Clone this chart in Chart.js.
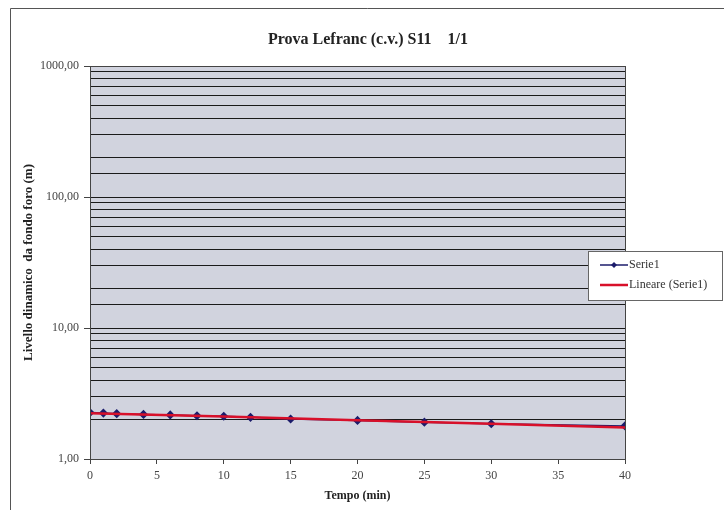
<!DOCTYPE html>
<html lang="it">
<head>
<meta charset="UTF-8" />
<title>Prova Lefranc (c.v.) S11 1/1</title>
<script src="https://cdn.jsdelivr.net/npm/chart.js"></script>
<style>
  html, body { margin: 0; padding: 0; background: #fff; }
  #wrap { width: 724px; height: 510px; position: relative; }
</style>
</head>
<body>
<div id="wrap"><canvas id="lefrancChart" width="724" height="510"></canvas></div>
<script>
// dati
const tempi = [0, 1, 2, 4, 6, 8, 10, 12, 15, 20, 25, 30, 40];
const livelli = [2.26, 2.24, 2.22, 2.19, 2.17, 2.14, 2.12, 2.08, 2.02, 1.97, 1.91, 1.86, 1.79];
const tempiTrend = [0, 10, 20, 30, 40];
const livelliTrend = [2.23, 2.11, 1.98, 1.86, 1.74];
const titolo = 'Prova Lefranc (c.v.) S11    1/1';
const serif = '"Liberation Serif", "Times New Roman", serif';

const isDecade = v => Math.abs(Math.log10(v) - Math.round(Math.log10(v))) < 1e-9;

// sfondo grigio area grafico, cornice e titolo
const sfondo = {
  id: 'sfondo',
  beforeDraw(chart) {
    const { ctx, chartArea: a } = chart;
    ctx.save();
    ctx.fillStyle = '#d1d3de';
    ctx.fillRect(a.left, a.top, a.right - a.left, a.bottom - a.top);
    ctx.strokeStyle = '#555';
    ctx.lineWidth = 1;
    ctx.beginPath();
    ctx.moveTo(10.5, 510);
    ctx.lineTo(10.5, 8.5);
    ctx.lineTo(724, 8.5);
    ctx.stroke();
    ctx.fillStyle = '#222';
    ctx.font = 'bold 16px ' + serif;
    ctx.textAlign = 'center';
    ctx.textBaseline = 'middle';
    ctx.fillText(titolo, 368, 40);
    ctx.restore();
  },
  afterDraw(chart) {
    const { ctx, chartArea: a } = chart;
    ctx.save();
    ctx.strokeStyle = '#444';
    ctx.lineWidth = 1;
    ctx.strokeRect(a.left + 0.5, a.top + 0.5, a.right - a.left, a.bottom - a.top);
    ctx.restore();
  }
};

// legenda in stile Excel, sovrapposta al bordo destro
const legenda = {
  id: 'legenda',
  afterDraw(chart) {
    const { ctx } = chart;
    const x = 588, y = 251, w = 134, h = 49;
    ctx.save();
    ctx.fillStyle = '#fff';
    ctx.fillRect(x, y, w, h);
    ctx.strokeStyle = '#666';
    ctx.lineWidth = 1;
    ctx.strokeRect(x + 0.5, y + 0.5, w, h);
    ctx.font = '12px ' + serif;
    ctx.textBaseline = 'middle';
    chart.data.datasets.forEach((ds, i) => {
      const ly = y + 14 + i * 20;
      ctx.strokeStyle = ds.borderColor;
      ctx.lineWidth = ds.borderWidth;
      ctx.beginPath();
      ctx.moveTo(x + 12, ly);
      ctx.lineTo(x + 40, ly);
      ctx.stroke();
      if (ds.pointRadius > 0) {
        ctx.fillStyle = ds.pointBackgroundColor;
        ctx.beginPath();
        ctx.moveTo(x + 26, ly - 3);
        ctx.lineTo(x + 29, ly);
        ctx.lineTo(x + 26, ly + 3);
        ctx.lineTo(x + 23, ly);
        ctx.closePath();
        ctx.fill();
      }
      ctx.fillStyle = '#333';
      ctx.fillText(ds.label, x + 41, ly);
    });
    ctx.restore();
  }
};

new Chart(document.getElementById('lefrancChart').getContext('2d'), {
  type: 'line',
  data: {
    datasets: [
      {
        label: 'Serie1',
        data: tempi.map((t, i) => ({ x: t, y: livelli[i] })),
        borderColor: '#1c1c6b',
        backgroundColor: '#1c1c6b',
        pointBackgroundColor: '#1c1c6b',
        pointBorderColor: '#1c1c6b',
        borderWidth: 1.5,
        pointStyle: 'rectRot',
        pointRadius: 3.5,
        tension: 0,
        order: 2
      },
      {
        label: 'Lineare (Serie1)',
        data: tempiTrend.map((t, i) => ({ x: t, y: livelliTrend[i] })),
        borderColor: '#d8102a',
        backgroundColor: '#d8102a',
        borderWidth: 2.5,
        pointRadius: 0,
        tension: 0,
        order: 1
      }
    ]
  },
  options: {
    responsive: false,
    animation: false,
    layout: { padding: { left: 21, right: 99, top: 66, bottom: 7 } },
    plugins: {
      legend: { display: false },
      tooltip: { enabled: false },
      title: { display: false }
    },
    scales: {
      x: {
        type: 'linear',
        min: 0,
        max: 40,
        ticks: { stepSize: 5, color: '#444', font: { family: serif, size: 12 }, padding: 5 },
        grid: { drawOnChartArea: false, tickLength: 5, tickColor: '#444' },
        border: { color: '#444' },
        title: { display: true, text: 'Tempo (min)', color: '#222', font: { family: serif, size: 12, weight: 'bold' }, padding: 0 },
        afterFit(scale) { scale.height = 44; }
      },
      y: {
        type: 'logarithmic',
        min: 1,
        max: 1000,
        ticks: {
          autoSkip: false,
          color: '#444',
          font: { family: serif, size: 12 },
          padding: 5,
          callback: v => isDecade(v) ? v.toFixed(2).replace('.', ',') : ''
        },
        grid: {
          color: '#1a1a1a',
          lineWidth: 1,
          tickLength: 6,
          tickColor: ctx => (ctx.tick && isDecade(ctx.tick.value)) ? '#444' : 'rgba(0,0,0,0)'
        },
        border: { color: '#444' },
        title: { display: true, text: 'Livello dinamico  da fondo foro (m)', color: '#222', font: { family: serif, size: 13, weight: 'bold' }, padding: 0 },
        afterFit(scale) { scale.width = 69; }
      }
    }
  },
  plugins: [sfondo, legenda]
});
</script>
</body>
</html>
